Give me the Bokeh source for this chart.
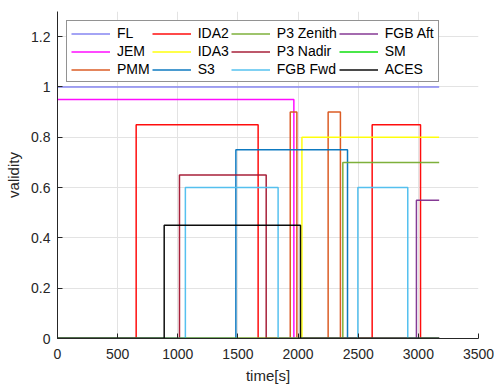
from bokeh.plotting import figure
from bokeh.models import Legend, LegendItem, Range1d, FixedTicker
from bokeh.embed import file_html
from bokeh.resources import INLINE

# ---- data ----
names = ["FL", "JEM", "PMM", "IDA2", "IDA3", "S3",
         "P3 Zenith", "P3 Nadir", "FGB Fwd", "FGB Aft", "SM", "ACES"]
colors = ["#8080F0", "#FF00FF", "#D95319", "#FF0000", "#FFFF00", "#0072BD",
          "#77AC30", "#A2142F", "#4DBEEE", "#7E2F8E", "#00DD00", "#000000"]

fl_t = [0, 3173];                          fl_v = [1.0, 1.0]
jem_t = [0, 1965, 3173];                   jem_v = [0.95, 0, 0]
pmm_t = [0, 1935, 1990, 2250, 2352, 3173]; pmm_v = [0, 0.9, 0, 0.9, 0, 0]
ida2_t = [0, 654, 1668, 2616, 3018, 3173]; ida2_v = [0, 0.85, 0, 0.85, 0, 0]
ida3_t = [0, 2032, 3173];                  ida3_v = [0, 0.8, 0.8]
s3_t = [0, 1483, 2411, 3173];              s3_v = [0, 0.75, 0, 0]
p3z_t = [0, 2372, 3173];                   p3z_v = [0, 0.7, 0.7]
p3n_t = [0, 1014, 1735, 3173];             p3n_v = [0, 0.65, 0, 0]
fgbf_t = [0, 1063, 1834, 2497, 2912, 3173]; fgbf_v = [0, 0.6, 0, 0.6, 0, 0]
fgba_t = [0, 2984, 3173];                  fgba_v = [0, 0.55, 0.55]
sm_t = [0, 3173];                          sm_v = [0, 0]
aces_t = [0, 887, 2020, 3173];             aces_v = [0, 0.45, 0, 0]

series_t = [fl_t, jem_t, pmm_t, ida2_t, ida3_t, s3_t, p3z_t, p3n_t, fgbf_t, fgba_t, sm_t, aces_t]
series_v = [fl_v, jem_v, pmm_v, ida2_v, ida3_v, s3_v, p3z_v, p3n_v, fgbf_v, fgba_v, sm_v, aces_v]

x_ticks = [0, 500, 1000, 1500, 2000, 2500, 3000, 3500]
y_ticks = [0, 0.2, 0.4, 0.6, 0.8, 1, 1.2]
y_tick_labels = ["0", "0.2", "0.4", "0.6", "0.8", "1", "1.2"]

FONT = "Liberation Sans"
TXT = "#262626"

p = figure(width=494, height=386, output_backend="svg", toolbar_location=None,
           x_range=Range1d(0, 3500), y_range=Range1d(0, 1.3),
           min_border_left=57, min_border_right=16, min_border_top=11, min_border_bottom=45)
p.outline_line_color = None
p.background_fill_color = "white"
p.border_fill_color = "white"

renderers = []
for t, v, c in zip(series_t, series_v, colors):
    r = p.step(t, v, mode="after", line_color=c, line_width=1.5, line_alpha=0.95)
    renderers.append(r)

# axes
p.xaxis.ticker = FixedTicker(ticks=x_ticks)
p.yaxis.ticker = FixedTicker(ticks=y_ticks)
p.yaxis.major_label_overrides = {t: l for t, l in zip(y_ticks, y_tick_labels)}
p.xaxis.axis_label = "time[s]"
p.yaxis.axis_label = "validity"
for ax in (p.xaxis, p.yaxis):
    ax.axis_line_color = TXT
    ax.major_tick_line_color = TXT
    ax.major_tick_in = 5
    ax.major_tick_out = 0
    ax.minor_tick_line_color = None
    ax.major_label_text_font = FONT
    ax.major_label_text_font_size = "14px"
    ax.major_label_text_color = TXT
    ax.axis_label_text_font = FONT
    ax.axis_label_text_font_size = "15px"
    ax.axis_label_text_font_style = "normal"
    ax.axis_label_text_color = TXT
p.xaxis.major_label_standoff = 10
p.xaxis.axis_label_standoff = 5
p.yaxis.major_label_standoff = 7
p.yaxis.axis_label_standoff = 6

p.grid.grid_line_color = "#E3E3E3"
p.grid.grid_line_width = 1

# legend: column-major order in 3 rows x 4 columns
items = [LegendItem(label=n, renderers=[r]) for n, r in zip(names, renderers)]
legend = Legend(items=items, ncols=4, location="top_left",
                label_text_font=FONT, label_text_font_size="14px", label_text_color="#000000",
                glyph_width=39, glyph_height=11, label_height=11, label_standoff=7,
                spacing=2, padding=4, margin=9,
                border_line_color=TXT, border_line_width=1,
                background_fill_color="white", background_fill_alpha=1.0)
p.add_layout(legend)

open("out.html", "w").write(file_html(p, INLINE))
